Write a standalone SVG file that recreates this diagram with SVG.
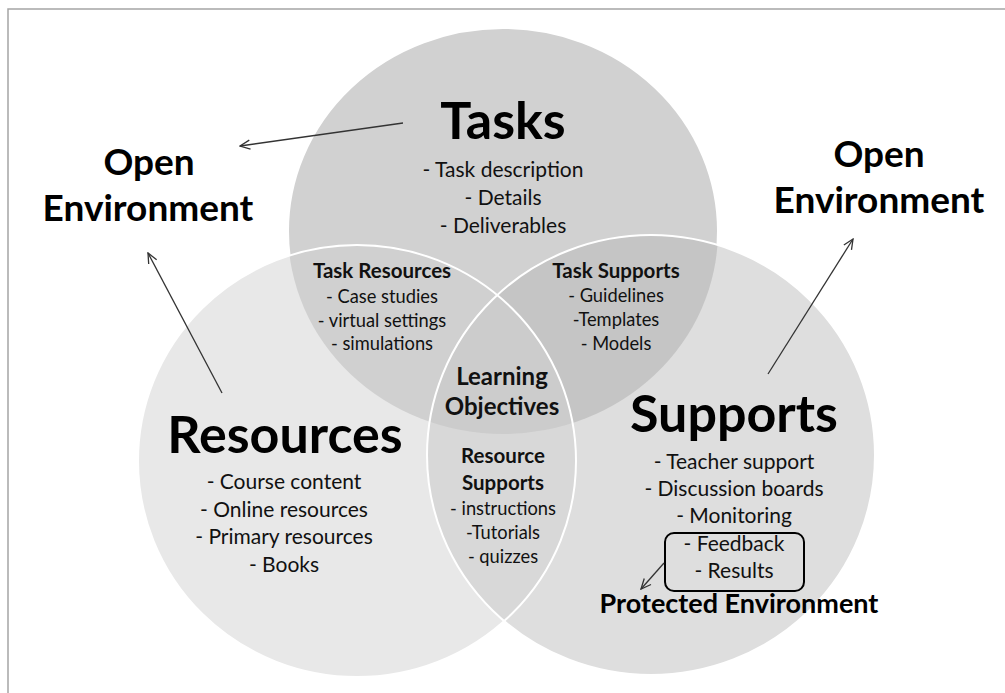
<svg xmlns="http://www.w3.org/2000/svg" width="1005" height="693" viewBox="0 0 1005 693">
<defs>
<style>
.t { font-family: Lato, "Liberation Sans", sans-serif; fill: #111; text-anchor: middle; }
.big { font-size: 52px; font-weight: bold; fill: #000; }
.env { font-size: 37px; font-weight: bold; fill: #000; }
.item { font-size: 21px; }
.sub { font-size: 20.5px; font-weight: bold; }
.sitem { font-size: 18.3px; }
.lo { font-size: 24px; font-weight: bold; }
.prot { font-size: 27px; font-weight: bold; fill: #000; }
.edge { fill: none; stroke: #ffffff; stroke-width: 2; }
.conn { stroke: #333; stroke-width: 1.3; fill: none; marker-end: url(#arr); }
</style>
<marker id="arr" viewBox="0 0 12 12" refX="11" refY="6" markerWidth="12" markerHeight="12" markerUnits="userSpaceOnUse" orient="auto">
<path d="M1,1.5 L11,6 L1,10.5" fill="none" stroke="#333" stroke-width="1.3"/>
</marker>
<clipPath id="cT"><ellipse cx="503" cy="231" rx="215" ry="203"/></clipPath>
<clipPath id="cR"><ellipse cx="357" cy="461" rx="219" ry="216"/></clipPath>
</defs>
<rect x="8" y="9" width="1100" height="800" fill="#ffffff" stroke="#a5a5a5" stroke-width="1.5"/>

<g id="node-tasks">
<ellipse cx="503" cy="231" rx="215" ry="203" class="edge" style="fill:#d1d1d1"/>
</g>
<g id="node-resources">
<ellipse cx="357" cy="461" rx="219" ry="216" fill="#e8e8e8"/>
</g>
<g id="node-supports">
<ellipse cx="651" cy="455" rx="224" ry="220" fill="#dedede"/>
</g>
<g id="node-task-resources">
<ellipse cx="357" cy="461" rx="219" ry="216" fill="#d0d0d0" clip-path="url(#cT)"/>
</g>
<g id="node-task-supports">
<ellipse cx="651" cy="455" rx="224" ry="220" fill="#c5c5c5" clip-path="url(#cT)"/>
</g>
<g id="node-resource-supports">
<ellipse cx="651" cy="455" rx="224" ry="220" fill="#d8d8d8" clip-path="url(#cR)"/>
</g>
<g id="node-learning-objectives" clip-path="url(#cT)">
<ellipse cx="651" cy="455" rx="224" ry="220" fill="#cccccc" clip-path="url(#cR)"/>
</g>
<g id="outlines">
<ellipse cx="357" cy="461" rx="219" ry="216" class="edge"/>
<ellipse cx="651" cy="455" rx="224" ry="220" class="edge"/>
</g>

<g id="text-tasks">
<text class="t big" x="503" y="139">Tasks</text>
<text class="t item" x="503" y="177">- Task description</text>
<text class="t item" x="503" y="205">- Details</text>
<text class="t item" x="503" y="233">- Deliverables</text>
</g>
<g id="text-resources">
<text class="t big" x="285" y="453">Resources</text>
<text class="t item" x="284" y="489">- Course content</text>
<text class="t item" x="284" y="517">- Online resources</text>
<text class="t item" x="284" y="544">- Primary resources</text>
<text class="t item" x="284" y="572">- Books</text>
</g>
<g id="text-supports">
<text class="t big" x="734" y="432">Supports</text>
<text class="t item" x="734" y="469">- Teacher support</text>
<text class="t item" x="734" y="496">- Discussion boards</text>
<text class="t item" x="734" y="523">- Monitoring</text>
<rect x="665" y="533" width="139" height="58" rx="9" fill="none" stroke="#000" stroke-width="2"/>
<text class="t item" x="734" y="551">- Feedback</text>
<text class="t item" x="734" y="578">- Results</text>
</g>
<g id="text-task-resources">
<text class="t sub" x="382" y="278">Task Resources</text>
<text class="t sitem" x="382" y="303">- Case studies</text>
<text class="t sitem" x="382" y="327">- virtual settings</text>
<text class="t sitem" x="382" y="350">- simulations</text>
</g>
<g id="text-task-supports">
<text class="t sub" x="616" y="278">Task Supports</text>
<text class="t sitem" x="616" y="302">- Guidelines</text>
<text class="t sitem" x="616" y="326">-Templates</text>
<text class="t sitem" x="616" y="350">- Models</text>
</g>
<g id="text-learning-objectives">
<text class="t lo" x="502" y="385">Learning</text>
<text class="t lo" x="502" y="415">Objectives</text>
</g>
<g id="text-resource-supports">
<text class="t sub" x="503" y="463">Resource</text>
<text class="t sub" x="503" y="490">Supports</text>
<text class="t sitem" x="503" y="515">- instructions</text>
<text class="t sitem" x="503" y="539">-Tutorials</text>
<text class="t sitem" x="503" y="563">- quizzes</text>
</g>
<g id="node-open-env-left">
<text class="t env" x="149" y="175">Open</text>
<text class="t env" x="148" y="221">Environment</text>
</g>
<g id="node-open-env-right">
<text class="t env" x="879" y="167">Open</text>
<text class="t env" x="879" y="213">Environment</text>
</g>
<g id="node-protected">
<text class="t prot" x="739" y="613">Protected Environment</text>
</g>

<g id="connectors">
<line class="conn" x1="403" y1="123" x2="240" y2="146"/>
<line class="conn" x1="222" y1="393" x2="148" y2="253"/>
<line class="conn" x1="768" y1="374" x2="853" y2="239"/>
<line class="conn" x1="664" y1="563" x2="641" y2="589"/>
</g>
</svg>
